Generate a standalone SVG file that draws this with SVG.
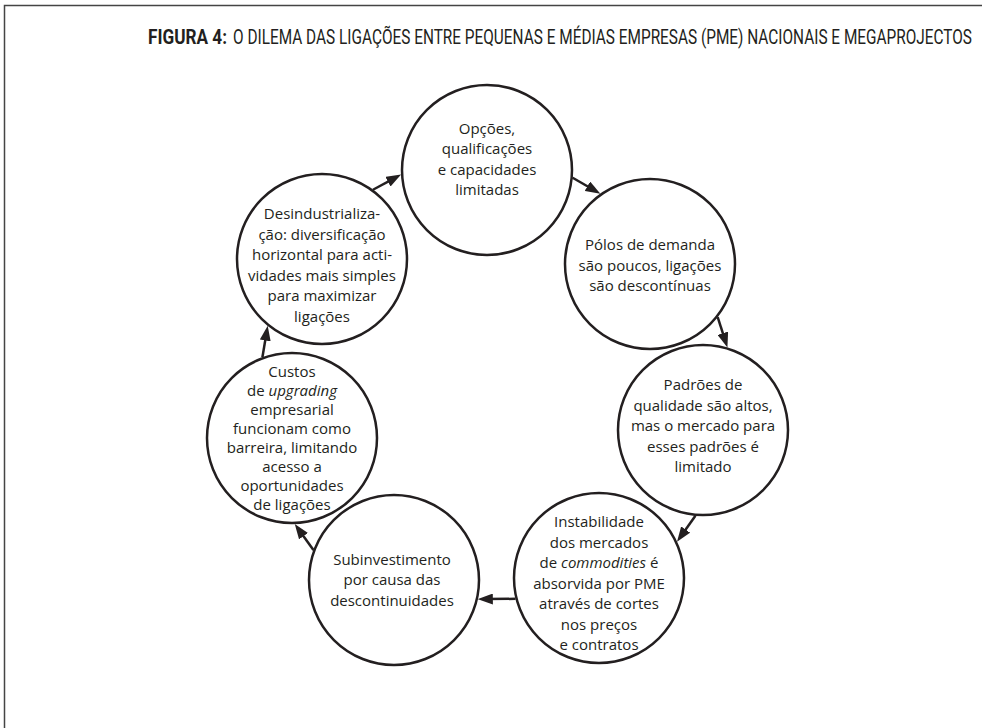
<svg xmlns="http://www.w3.org/2000/svg" width="982" height="728" viewBox="0 0 982 728">
<style>
.c{fill:#fff;stroke:#231f20;stroke-width:2.5}
.t{font-family:"Open Sans","DejaVu Sans",sans-serif;font-size:15px;fill:#231f20;text-anchor:middle}
.h{font-family:Roboto,"DejaVu Sans",sans-serif;font-size:20px;fill:#231f20}
.a{stroke:#231f20;stroke-width:2.5;fill:none;marker-end:url(#ah)}
.i{font-style:italic}
</style>
<defs>
<marker id="ah" markerUnits="userSpaceOnUse" markerWidth="15" markerHeight="11" refX="7" refY="5.5" orient="auto"><path d="M0,0 L15,5.5 L0,11 Z" fill="#231f20"/></marker>
</defs>
<rect width="982" height="728" fill="#fff"/>
<path d="M4.5,728 V5.5 H982" fill="none" stroke="#444" stroke-width="1.5"/>
<text class="h" x="148" y="44" font-weight="bold" textLength="79" lengthAdjust="spacingAndGlyphs">FIGURA 4:</text>
<text class="h" x="233" y="44" textLength="739" lengthAdjust="spacingAndGlyphs">O DILEMA DAS LIGAÇÕES ENTRE PEQUENAS E MÉDIAS EMPRESAS (PME) NACIONAIS E MEGAPROJECTOS</text>
<g id="connectors">
<line class="a" x1="572.65" y1="177.78" x2="593.44" y2="189.76"/>
<line class="a" x1="717.68" y1="317.06" x2="724.99" y2="339.92"/>
<line class="a" x1="695.42" y1="515.66" x2="681.62" y2="535.29"/>
<line class="a" x1="515.56" y1="598.82" x2="485.84" y2="599.10"/>
<line class="a" x1="313.42" y1="549.95" x2="299.43" y2="530.45"/>
<line class="a" x1="262.42" y1="357.25" x2="266.38" y2="333.58"/>
<line class="a" x1="372.96" y1="189.73" x2="394.08" y2="178.33"/>
</g>
<g id="n1">
<circle class="c" cx="487" cy="170" r="85"/>
<text class="t"><tspan x="487" y="133.5">Opções,</tspan><tspan x="487" y="154">qualificações</tspan><tspan x="487" y="174.5">e capacidades</tspan><tspan x="487" y="195">limitadas</tspan></text>
</g>
<g id="n2">
<circle class="c" cx="650" cy="264" r="85"/>
<text class="t"><tspan x="650" y="250">Pólos de demanda</tspan><tspan x="650" y="270.5">são poucos, ligações</tspan><tspan x="650" y="291">são descontínuas</tspan></text>
</g>
<g id="n3">
<circle class="c" cx="703" cy="430" r="85"/>
<text class="t"><tspan x="703" y="390.3">Padrões de</tspan><tspan x="703" y="410.8">qualidade são altos,</tspan><tspan x="703" y="431.3">mas o mercado para</tspan><tspan x="703" y="451.8">esses padrões é</tspan><tspan x="703" y="472.3">limitado</tspan></text>
</g>
<g id="n4">
<circle class="c" cx="599" cy="578" r="85"/>
<text class="t"><tspan x="599" y="527">Instabilidade</tspan><tspan x="599" y="547.5">dos mercados</tspan><tspan x="599" y="568">de <tspan class="i">commodities</tspan> é</tspan><tspan x="599" y="588.5">absorvida por PME</tspan><tspan x="599" y="609">através de cortes</tspan><tspan x="599" y="629.5">nos preços</tspan><tspan x="599" y="650">e contratos</tspan></text>
</g>
<g id="n5">
<circle class="c" cx="394" cy="580" r="85"/>
<text class="t"><tspan x="392" y="564.7">Subinvestimento</tspan><tspan x="392" y="585.2">por causa das</tspan><tspan x="392" y="605.7">descontinuidades</tspan></text>
</g>
<g id="n6">
<circle class="c" cx="292" cy="438" r="85"/>
<text class="t"><tspan x="292" y="376.7">Custos</tspan><tspan x="292" y="395.7">de <tspan class="i">upgrading</tspan></tspan><tspan x="292" y="414.7">empresarial</tspan><tspan x="292" y="433.7">funcionam como</tspan><tspan x="292" y="452.7">barreira, limitando</tspan><tspan x="292" y="471.7">acesso a</tspan><tspan x="292" y="490.7">oportunidades</tspan><tspan x="292" y="509.7">de ligações</tspan></text>
</g>
<g id="n7">
<circle class="c" cx="322" cy="259" r="85"/>
<text class="t"><tspan x="322" y="219">Desindustrializa-</tspan><tspan x="322" y="239.5">ção: diversificação</tspan><tspan x="322" y="260">horizontal para acti-</tspan><tspan x="322" y="280.5">vidades mais simples</tspan><tspan x="322" y="301">para maximizar</tspan><tspan x="322" y="321.5">ligações</tspan></text>
</g>
</svg>
